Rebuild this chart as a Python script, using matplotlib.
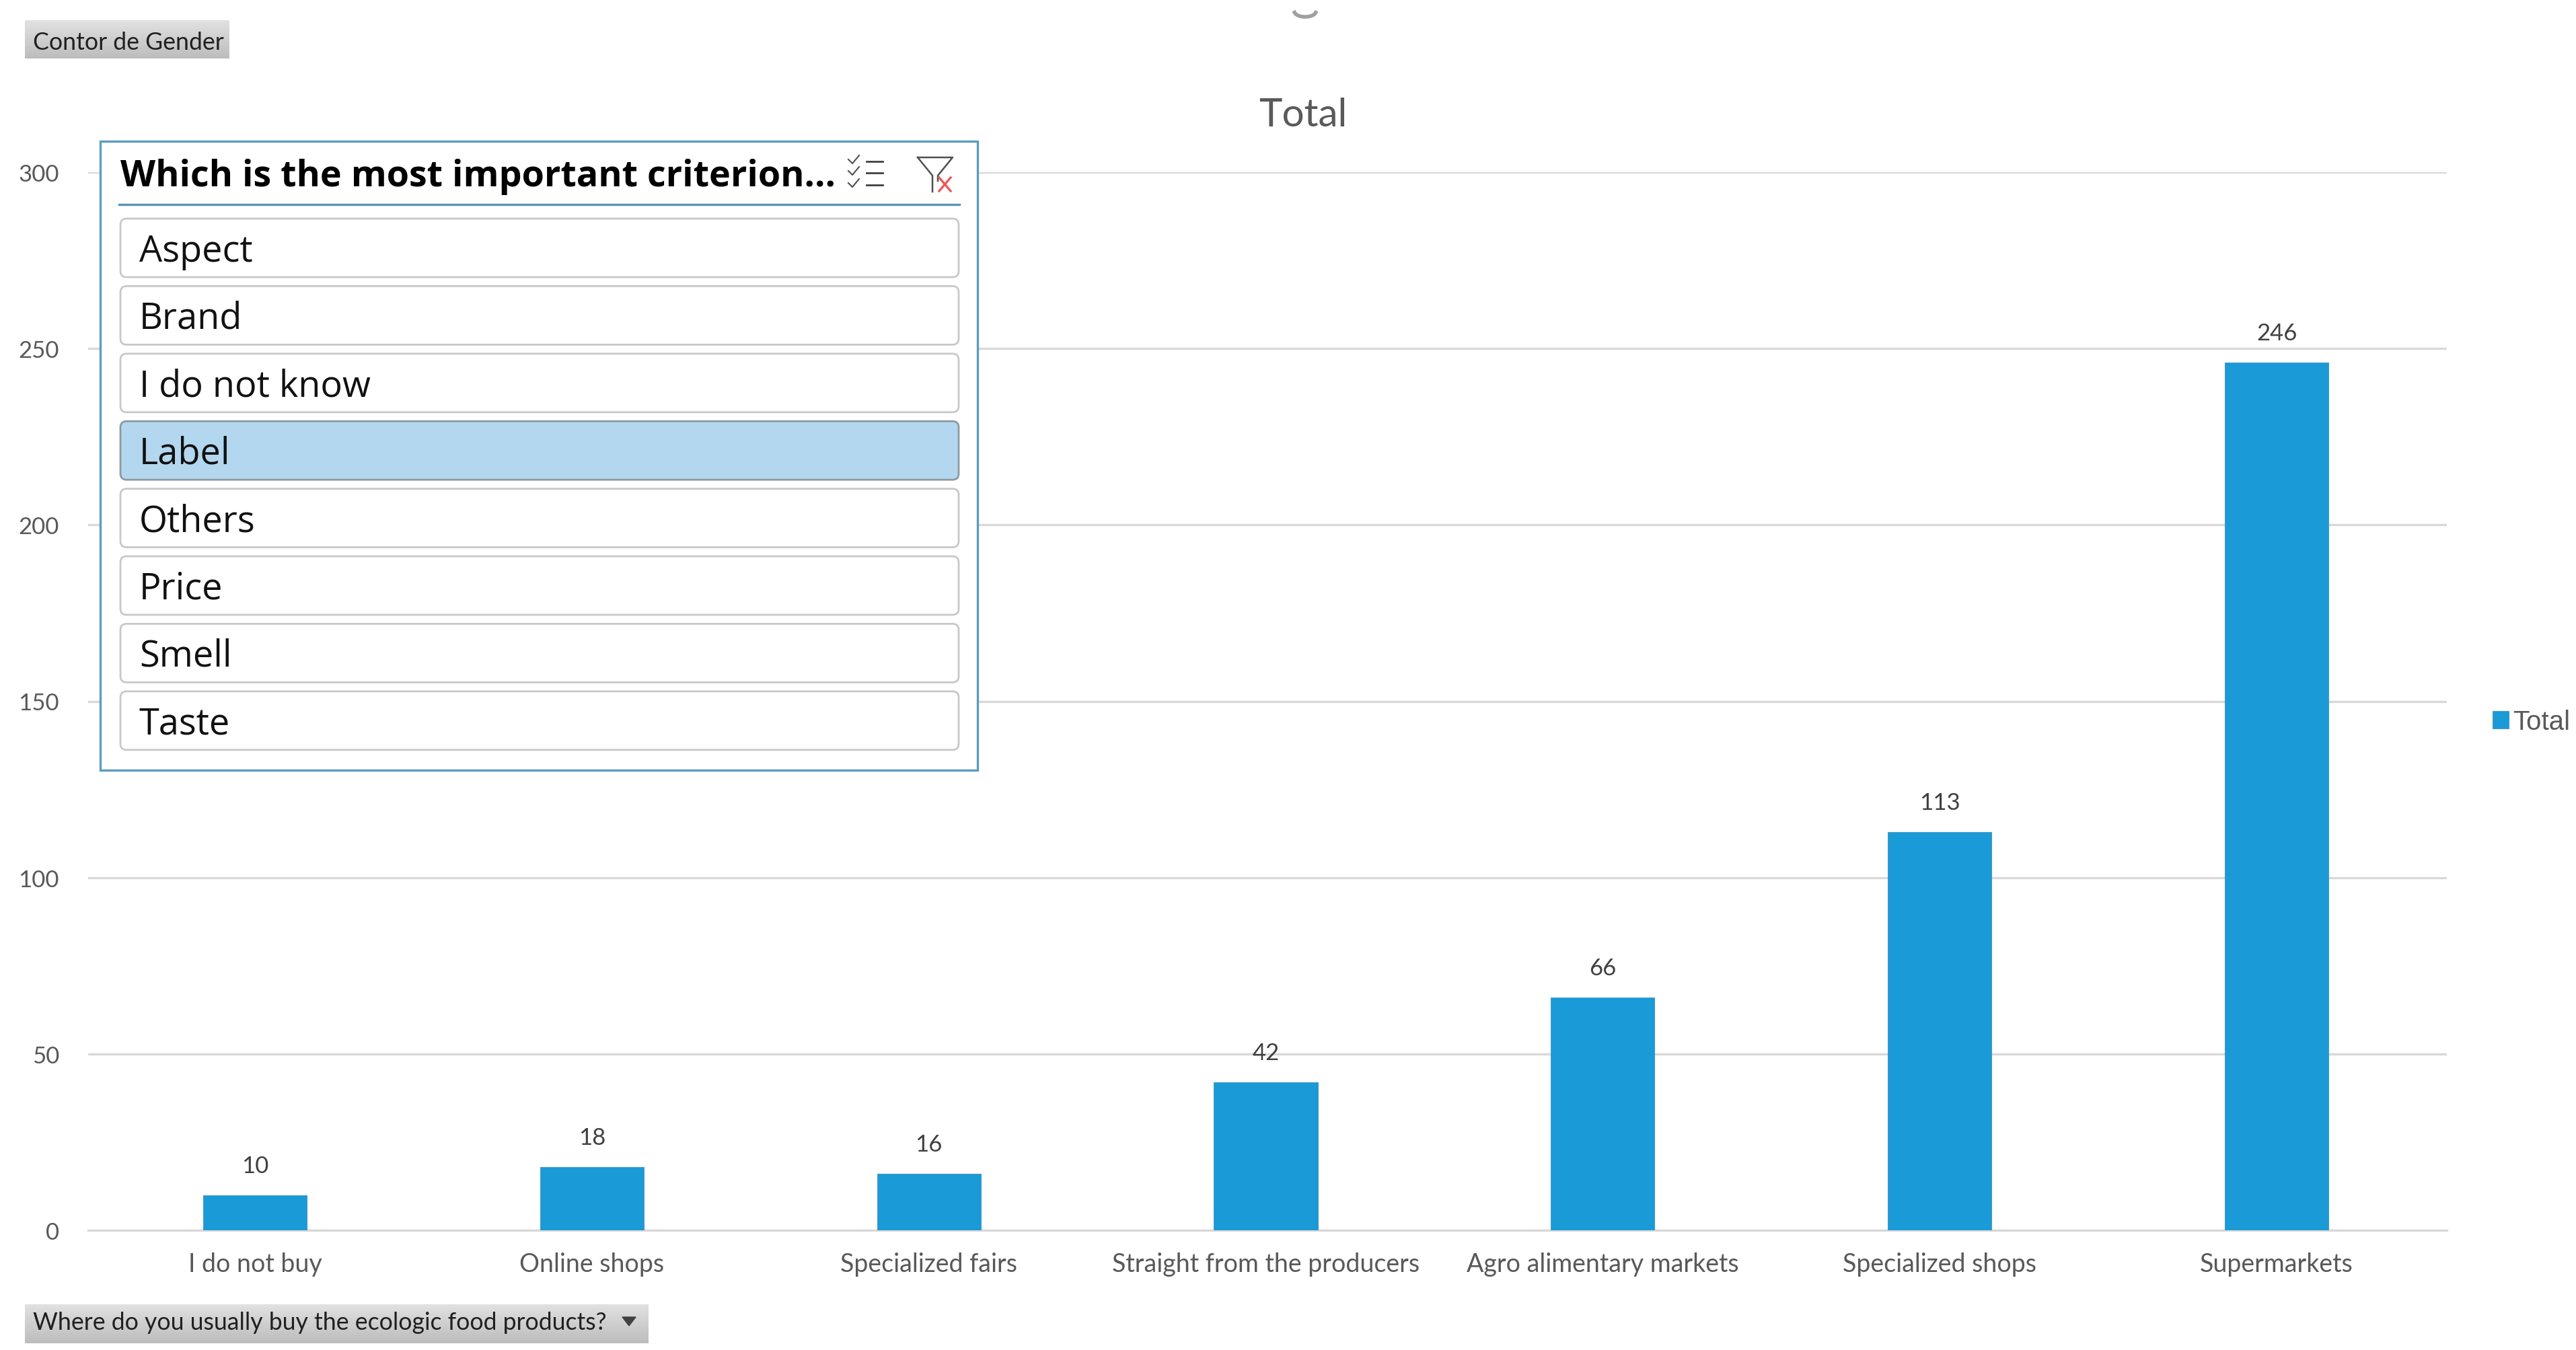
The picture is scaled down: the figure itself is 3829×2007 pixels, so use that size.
#!/usr/bin/env python3
import matplotlib
matplotlib.use('Agg')
import matplotlib.pyplot as plt
from matplotlib.patches import FancyBboxPatch, Rectangle, Polygon
import numpy as np

W, H = 3830, 2008

# ── data ──────────────────────────────────────────────────────
categories = ['I do not buy', 'Online shops', 'Specialized fairs',
              'Straight from the producers', 'Agro alimentary markets',
              'Specialized shops', 'Supermarkets']
totals = [10, 18, 16, 42, 66, 113, 246]
y_ticks = [0, 50, 100, 150, 200, 250, 300]
slicer_items = ['Aspect', 'Brand', 'I do not know', 'Label', 'Others',
                'Price', 'Smell', 'Taste']
slicer_title = 'Which is the most important criterion...'
selected_item = 'Label'

BLUE = '#1A9AD7'
GRID = '#D9D9D9'
TICK = '#595959'

fig = plt.figure(figsize=(W / 100, H / 100), dpi=100, facecolor='white')

# ── bar chart ─────────────────────────────────────────────────
ax = fig.add_axes([131 / W, (H - 1830) / H, 3506 / W, 1573 / H])
x = np.arange(len(categories))
bars = ax.bar(x, totals, width=0.308, color=BLUE, edgecolor='#4A9AC8',
              linewidth=0.8, label='Total', zorder=3)
ax.bar_label(bars, labels=[str(v) for v in totals], padding=20, fontsize=25,
             family='Lato', color='#404040')
ax.set_xlim(-0.495, 6.505)
ax.set_ylim(0, 300)
ax.set_xticks(x)
ax.set_xticklabels(categories, fontsize=27, family='Lato', color=TICK)
ax.set_yticks(y_ticks)
ax.set_yticklabels([str(v) for v in y_ticks], fontsize=25, family='Lato',
                   color=TICK)
ax.tick_params(axis='x', length=0, pad=23)
ax.tick_params(axis='y', length=0, pad=31)
ax.grid(True, axis='y', color=GRID, linewidth=2.4, zorder=0)
ax.set_axisbelow(True)
for name in ('top', 'left', 'right'):
    ax.spines[name].set_visible(False)
ax.spines['bottom'].set_color(GRID)
ax.spines['bottom'].set_linewidth(2.4)

fig.text(1937 / W, 1 - 171 / H, 'Total', fontsize=42, family='Lato',
         color=TICK, ha='center', va='center')

ax.legend(loc='center left', bbox_to_anchor=(3705 / W, 1 - 1074 / H),
          bbox_transform=fig.transFigure, frameon=False,
          prop={'family': 'Liberation Sans', 'size': 29}, labelcolor=TICK,
          handlelength=0.6, handleheight=0.6, handletextpad=0.14,
          borderpad=0, borderaxespad=0)

# ── overlay in image pixels: pivot buttons and slicer ─────────
ov = fig.add_axes([0, 0, 1, 1], zorder=5)
ov.set_xlim(0, W)
ov.set_ylim(H, 0)
ov.axis('off')
ov.patch.set_alpha(0)


def pill(x0, y0, x1, y1, text, dy):
    grad = np.linspace(0.88, 0.74, 32).reshape(-1, 1)
    ov.imshow(grad, cmap='gray', vmin=0, vmax=1, aspect='auto',
              extent=(x0, x1, y1, y0), zorder=2)
    ov.text(x0 + 12, (y0 + y1) / 2 + dy, text, fontsize=25.7, family='Lato',
            color='#202020', ha='left', va='center', zorder=3)


pill(37, 31, 341, 88, 'Contor de Gender', 4)
pill(37, 1940, 964, 1998, 'Where do you usually buy the ecologic food products?', -2)
ov.add_patch(Polygon([(925, 1959), (945, 1959), (935, 1972)], color='#404040',
                     zorder=3))
ov.set_xlim(0, W)
ov.set_ylim(H, 0)

# ghost arc near the top edge
arc_t = np.linspace(0.2, np.pi - 0.2, 30)
ov.plot(1940 + 16 * np.cos(arc_t), 18 + 8 * np.sin(arc_t), color='#A0A0A0',
        linewidth=4)

# slicer frame
ov.add_patch(Rectangle((149, 211), 1304, 935, facecolor='white',
                       edgecolor='#5B9CC0', linewidth=2.4, zorder=1))
ov.text(179, 263, slicer_title, fontsize=38.8, family='Open Sans',
        fontweight='bold', color='black', ha='left', va='center', zorder=3)
ov.plot([177, 1426], [305, 305], color='#5B93B5', linewidth=2.4, zorder=3)

# multi-select icon
for yy in (241, 258, 276):
    ov.plot([1261, 1267, 1277], [yy - 3, yy + 3, yy - 9], color='#505050',
            linewidth=1.5, zorder=3)
    ov.plot([1288, 1312], [yy, yy], color='#404040', linewidth=2, zorder=3)

# clear-filter icon
ov.plot([1364, 1416, 1394, 1394], [235, 235, 262, 270], color='#505050',
        linewidth=1.8, zorder=3)
ov.plot([1364, 1386, 1386], [235, 262, 286], color='#505050', linewidth=1.8,
        zorder=3)
ov.plot([1396, 1413], [265, 285], color='#F0565A', linewidth=2.4, zorder=3)
ov.plot([1413, 1396], [265, 285], color='#F0565A', linewidth=2.4, zorder=3)

# slicer buttons
for i, item in enumerate(slicer_items):
    top = 326 + i * 100.4
    sel = item == selected_item
    ov.add_patch(FancyBboxPatch(
        (179 + 8, top + 8), 1246 - 16, 87 - 16,
        boxstyle='round,pad=8,rounding_size=9',
        facecolor='#B3D7EE' if sel else 'white',
        edgecolor='#8C9AA3' if sel else '#C8C8C8',
        linewidth=2.0, zorder=2))
    ov.text(207, top + 48, item, fontsize=39, family='Open Sans',
            color='#111111', ha='left', va='center', zorder=3)

fig.savefig('out.png', dpi=100, facecolor='white')
